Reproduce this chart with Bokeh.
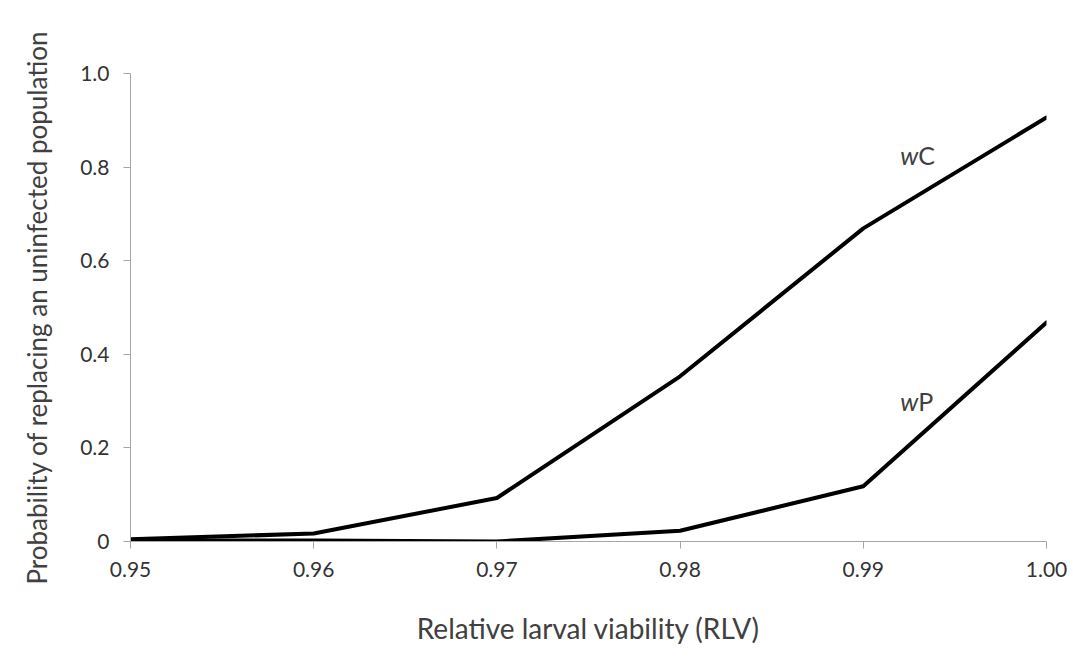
from bokeh.plotting import figure
from bokeh.models import FixedTicker, Label, Range1d
from bokeh.embed import file_html
from bokeh.resources import INLINE

# Data
rlv = [0.95, 0.96, 0.97, 0.98, 0.99, 1.00]
wC = [0.005, 0.017, 0.093, 0.353, 0.669, 0.906]
wP = [0.002, 0.002, 0.0, 0.023, 0.118, 0.468]

x_ticks = [0.95, 0.96, 0.97, 0.98, 0.99, 1.00]
x_tick_labels = ["0.95", "0.96", "0.97", "0.98", "0.99", "1.00"]
y_ticks = [0.0, 0.2, 0.4, 0.6, 0.8, 1.0]
y_tick_labels = ["0", "0.2", "0.4", "0.6", "0.8", "1.0"]

y_title = "Probability of replacing an uninfected population"
x_title = "Relative larval viability (RLV)"

FONT = "Lato"
AXIS_COLOR = "#a6a6a6"
TEXT_COLOR = "#404040"

p = figure(width=1073, height=658, output_backend="svg", toolbar_location=None,
           x_range=Range1d(0.95, 1.00), y_range=Range1d(0.0, 1.0),
           min_border_left=130, min_border_right=27, min_border_top=73,
           min_border_bottom=117)
p.outline_line_color = None
p.grid.visible = False
p.background_fill_color = "white"
p.border_fill_color = "white"

for ax in (p.xaxis[0], p.yaxis[0]):
    ax.axis_line_color = AXIS_COLOR
    ax.axis_line_width = 1
    ax.major_tick_line_color = AXIS_COLOR
    ax.major_tick_in = 0
    ax.major_tick_out = 7
    ax.minor_tick_line_color = None
    ax.major_label_text_font = FONT
    ax.major_label_text_font_size = "21px"
    ax.major_label_text_color = "#333333"
    ax.axis_label_text_font = FONT
    ax.axis_label_text_font_style = "normal"
    ax.axis_label_text_color = TEXT_COLOR

p.xaxis.ticker = FixedTicker(ticks=x_ticks)
p.xaxis.major_label_overrides = {t: l for t, l in zip(x_ticks, x_tick_labels)}
p.xaxis.major_label_standoff = 13
p.xaxis.axis_label = x_title
p.xaxis.axis_label_text_font_size = "28px"
p.xaxis.axis_label_standoff = 31

p.yaxis.ticker = FixedTicker(ticks=y_ticks)
p.yaxis.major_label_overrides = {t: l for t, l in zip(y_ticks, y_tick_labels)}
p.yaxis.major_label_standoff = 14
p.yaxis.axis_label = y_title
p.yaxis.axis_label_text_font_size = "26px"
p.yaxis.axis_label_standoff = 24

# Lines
p.line(rlv, wC, line_color="black", line_width=4, line_cap="round", line_join="round")
p.line(rlv, wP, line_color="black", line_width=4, line_cap="round", line_join="round")

# Series labels: italic "w" + upright letter
def series_label(x, y, letter):
    p.add_layout(Label(x=x, y=y, text="w", text_align="right", text_baseline="middle",
                       text_font=FONT, text_font_style="italic", text_font_size="25px",
                       text_color=TEXT_COLOR))
    p.add_layout(Label(x=x, y=y, text=letter, text_align="left", text_baseline="middle",
                       text_font=FONT, text_font_style="normal", text_font_size="25px",
                       text_color=TEXT_COLOR))

series_label(0.9930, 0.825, "C")
series_label(0.9930, 0.301, "P")

open("out.html", "w").write(file_html(p, INLINE))
